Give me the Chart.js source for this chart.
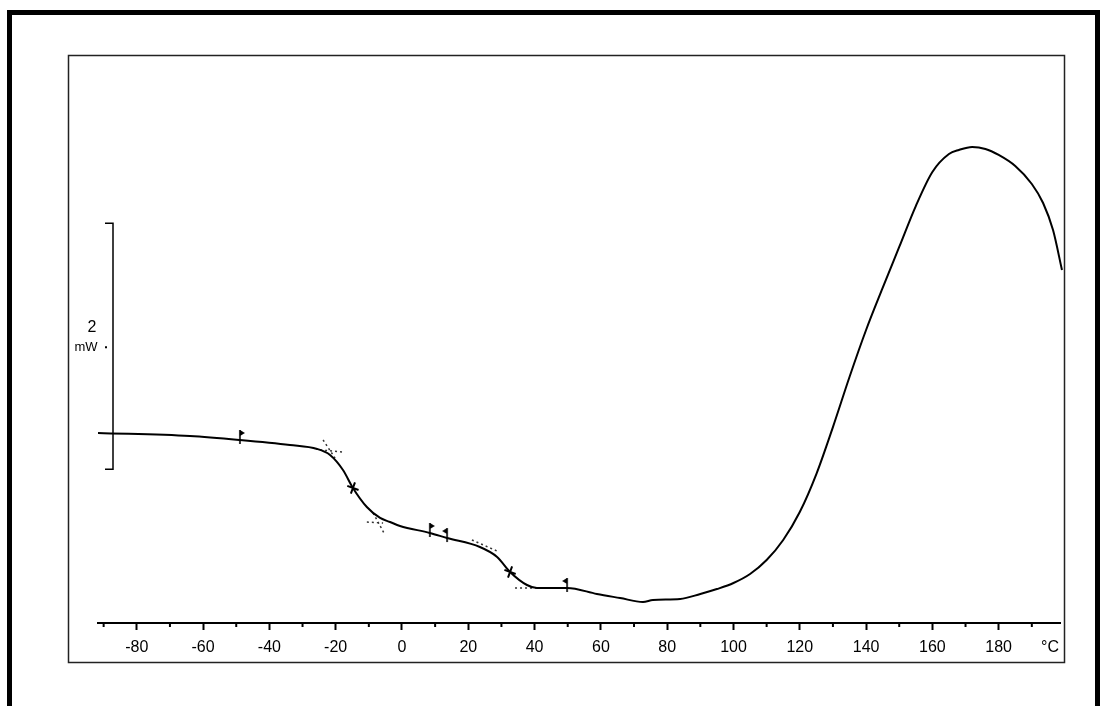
<!DOCTYPE html>
<html>
<head>
<meta charset="utf-8">
<script src="https://cdn.jsdelivr.net/npm/chart.js@4.4.1/dist/chart.umd.min.js"></script>
<style>
  html, body { margin: 0; padding: 0; background: #fff; }
  #wrap { width: 1107px; height: 706px; }
</style>
</head>
<body>
<div id="wrap"><canvas id="dsc"></canvas></div>
<script>
// temperature (°C) and heat flow (mW, arbitrary zero at the axis line)
const temps = [-91.7, -64.0, -48.9, -33.8, -25.6, -21.7, -17.8, -14.8, -10.6, -6.6, -3.6, -0.6,
  8.4, 13.6, 23.5, 28.7, 32.6, 37.7, 40.7, 49.8, 58.8, 65.8, 72.7, 75.7, 83.9,
  90, 95, 100, 105, 110, 115, 120, 125, 130, 135, 140, 145, 150, 155, 160, 165, 168, 172,
  176, 180, 185, 190, 193.4, 196.4, 199.1];
const heatFlow = [1.545, 1.520, 1.488, 1.447, 1.415, 1.366, 1.244, 1.098, 0.943, 0.854, 0.821, 0.789,
  0.732, 0.691, 0.618, 0.537, 0.415, 0.309, 0.285, 0.285, 0.236, 0.203, 0.171, 0.187, 0.195,
  0.236, 0.276, 0.325, 0.398, 0.512, 0.675, 0.902, 1.211, 1.593, 2.000, 2.382, 2.724, 3.057,
  3.390, 3.667, 3.813, 3.846, 3.870, 3.854, 3.805, 3.715, 3.569, 3.415, 3.195, 2.870];

// evaluation marks
const crossT = [-14.8, 32.6];
const crossY = [1.098, 0.415];
const flagRightT = [-48.9, 8.4];
const flagRightY = [1.488, 0.732];
const flagLeftT = [13.6, 49.8];
const flagLeftY = [0.691, 0.285];

// dotted tangents [t1, y1, t2, y2]
const tangents = [
  [-23.8, 1.488, -20.2, 1.341],
  [-24.7, 1.407, -17.8, 1.390],
  [-10.6, 0.821, -5.7, 0.813],
  [-8.7, 0.894, -5.1, 0.715],
  [21.1, 0.675, 28.7, 0.585],
  [34.1, 0.285, 40.7, 0.285]
];

const tickValues = [];
for (let v = -90; v <= 190; v += 10) tickValues.push(v);

const scaleBarLow = 1.25;   // bottom of the 2 mW bar
const scaleBarSize = 2;

const labelFont = "'Liberation Sans Narrow', 'Liberation Sans', Arial, sans-serif";

function makeFlag(dir) {
  const c = document.createElement("canvas");
  c.width = 14; c.height = 22;
  const g = c.getContext("2d");
  g.strokeStyle = "#000"; g.fillStyle = "#000"; g.lineWidth = 1.6;
  g.beginPath(); g.moveTo(7, 1); g.lineTo(7, 15); g.stroke();
  g.beginPath();
  g.moveTo(7, 1); g.lineTo(7 + dir * 5, 4); g.lineTo(7, 7); g.closePath(); g.fill();
  return c;
}

const frames = {
  id: "frames",
  afterDraw(chart) {
    const c = chart.ctx;
    const x = chart.scales.x, y = chart.scales.y;
    c.save();
    // outer scan border
    c.fillStyle = "#000";
    c.fillRect(7, 10, 1093, 5);
    c.fillRect(7, 10, 5, 696);
    c.fillRect(1095, 10, 5, 696);
    // plot frame
    c.strokeStyle = "#222";
    c.lineWidth = 1.5;
    c.strokeRect(68.5, 55.5, 996, 607);
    // minor ticks
    c.strokeStyle = "#000";
    c.lineWidth = 2;
    const base = chart.chartArea.bottom;
    tickValues.forEach(v => {
      if (v % 20 !== 0) {
        const px = x.getPixelForValue(v);
        c.beginPath(); c.moveTo(px, base); c.lineTo(px, base + 4); c.stroke();
      }
    });
    // °C unit
    c.fillStyle = "#000";
    c.font = "16px " + labelFont;
    c.textAlign = "center";
    c.textBaseline = "middle";
    c.fillText("°C", x.getPixelForValue(195.5), base + 25);
    // 2 mW scale bar
    const bx = 113;
    const yb = y.getPixelForValue(scaleBarLow);
    const yt = y.getPixelForValue(scaleBarLow + scaleBarSize);
    c.lineWidth = 1.5;
    c.beginPath();
    c.moveTo(105, yt); c.lineTo(bx, yt); c.lineTo(bx, yb); c.lineTo(105, yb);
    c.stroke();
    c.font = "16px 'Liberation Sans', Arial, sans-serif";
    c.fillText("2", 92, (yt + yb) / 2 - 19);
    c.font = "13px 'Liberation Sans', Arial, sans-serif";
    c.fillText("mW", 86, (yt + yb) / 2 + 1);
    c.fillRect(105, (yt + yb) / 2, 2, 2);
    c.restore();
  }
};

const pts = (xs, ys) => xs.map((t, i) => ({ x: t, y: ys[i] }));

const datasets = [
  {
    data: pts(temps, heatFlow),
    showLine: true,
    borderColor: "#000",
    borderWidth: 2,
    pointRadius: 0,
    cubicInterpolationMode: "monotone",
    clip: false
  },
  {
    data: pts(crossT, crossY),
    pointStyle: "cross",
    rotation: 20,
    pointRadius: 6,
    borderColor: "#000",
    borderWidth: 2
  },
  {
    data: pts(flagRightT, flagRightY),
    pointStyle: makeFlag(1),
    pointRadius: 8
  },
  {
    data: pts(flagLeftT, flagLeftY),
    pointStyle: makeFlag(-1),
    pointRadius: 8
  }
];
tangents.forEach(s => {
  datasets.push({
    data: [{ x: s[0], y: s[1] }, { x: s[2], y: s[3] }],
    showLine: true,
    borderColor: "#333",
    borderWidth: 1.5,
    borderDash: [2, 3],
    pointRadius: 0
  });
});

const ctx = document.getElementById("dsc").getContext("2d");
const dscChart = new Chart(ctx, {
  type: "scatter",
  data: { datasets: datasets },
  options: {
    responsive: true,
    maintainAspectRatio: false,
    animation: false,
    layout: { padding: { left: 98, right: 47, top: 55, bottom: 43 } },
    plugins: {
      legend: { display: false },
      tooltip: { enabled: false }
    },
    scales: {
      x: {
        type: "linear",
        min: -91.7,
        max: 198.5,
        afterBuildTicks: s => { s.ticks = tickValues.map(v => ({ value: v })); },
        afterFit: s => { s.height = 40; },
        border: { display: true, color: "#000", width: 2 },
        grid: {
          drawOnChartArea: false,
          tickLength: 7,
          tickWidth: 2,
          tickColor: c => (c.tick && c.tick.value % 20 === 0 ? "#000" : "rgba(0,0,0,0)")
        },
        ticks: {
          autoSkip: false,
          maxRotation: 0,
          padding: 8,
          color: "#000",
          font: { family: labelFont, size: 16 },
          callback: v => (v % 20 === 0 ? String(v) : "")
        }
      },
      y: {
        display: false,
        min: 0,
        max: 4.618
      }
    }
  },
  plugins: [frames]
});
</script>
</body>
</html>
